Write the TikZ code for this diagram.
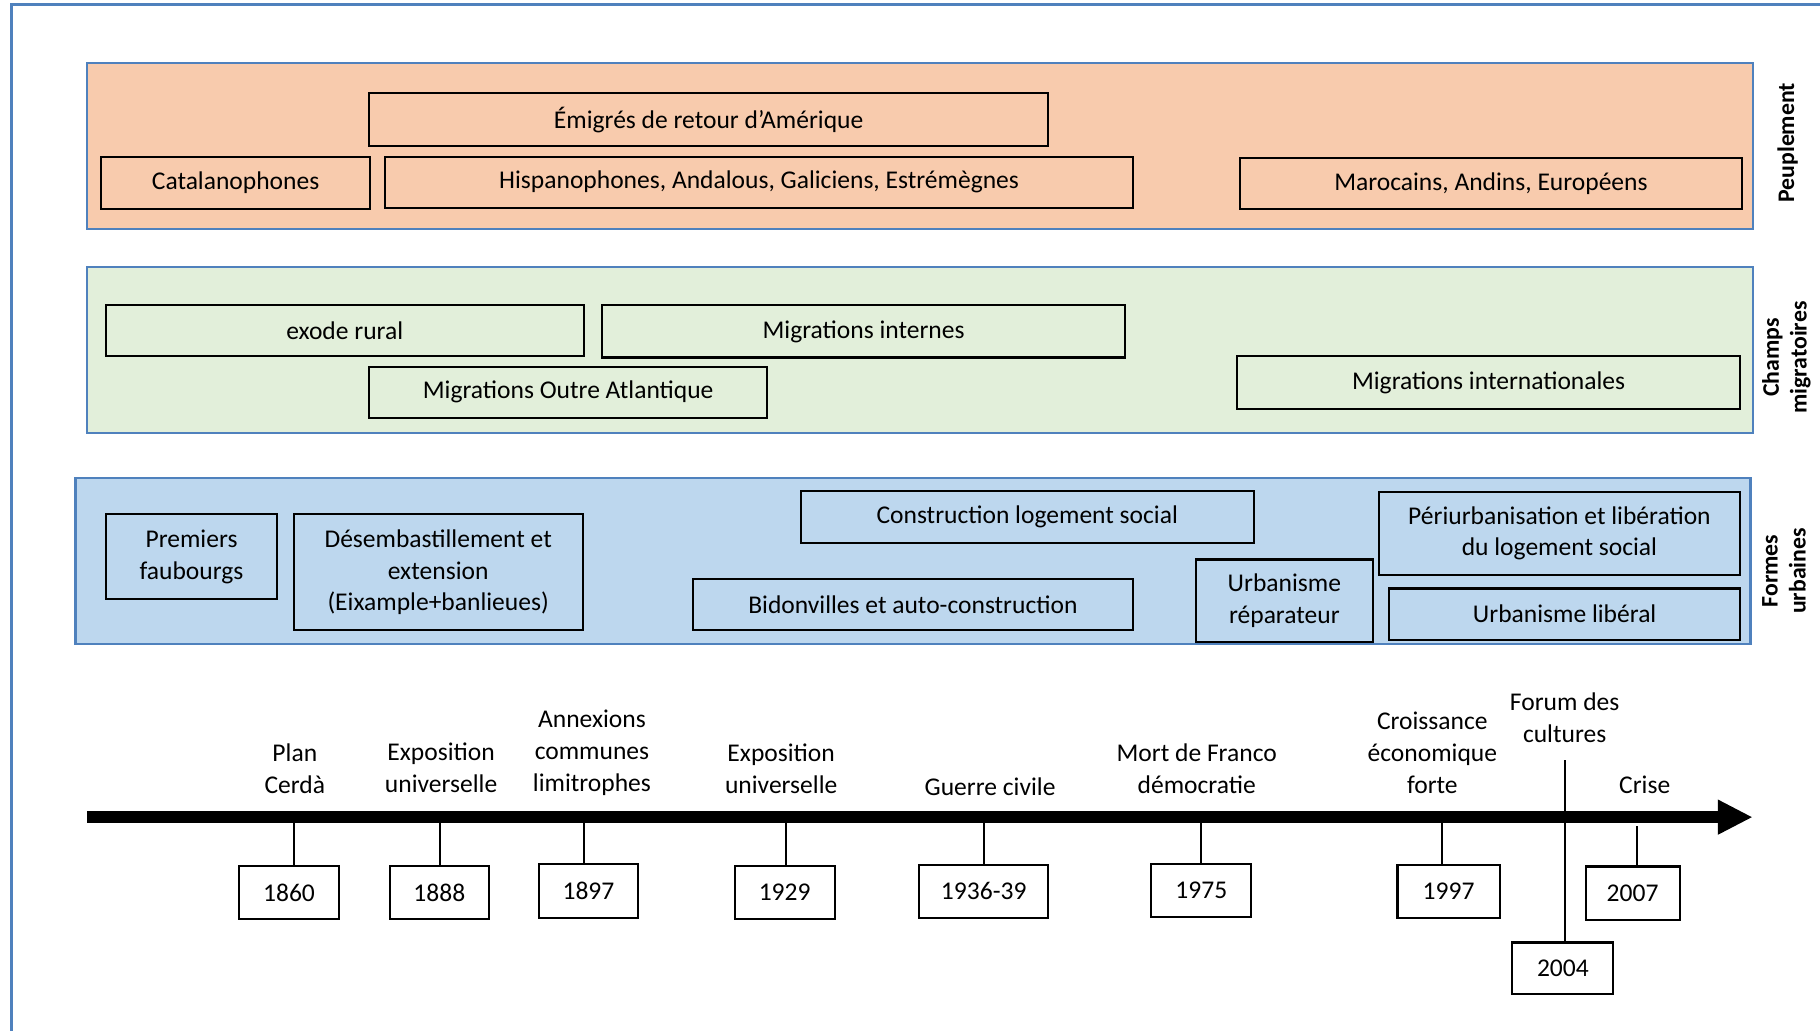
\documentclass[tikz,border=0pt]{standalone}
\usepackage{fontspec}
\setmainfont{Carlito}
\usetikzlibrary{arrows.meta}
\definecolor{frameblue}{RGB}{79,129,189}
\definecolor{peach}{RGB}{248,203,173}
\definecolor{palegreen}{RGB}{226,239,218}
\definecolor{paleblue}{RGB}{189,215,238}
\begin{document}
\begin{tikzpicture}[x=1pt,y=-1pt,
  band/.style={draw=frameblue,line width=2pt,inner sep=0pt,minimum width=1435pt,minimum height=143pt},
  box/.style={draw=black,line width=1.8pt,inner sep=0pt,align=center,minimum height=44pt,
    font=\fontsize{22}{27.5}\selectfont},
  yearbox/.style={box,minimum width=86pt,minimum height=46pt},
  evt/.style={align=center,inner sep=0pt,font=\fontsize{22}{27.5}\selectfont},
  sidelabel/.style={rotate=90,align=center,inner sep=0pt,font=\fontsize{20.5}{24}\selectfont\bfseries},
  tick/.style={draw=black,line width=1.8pt}]
\useasboundingbox (0,0) rectangle (1568,888);
% outer frame
\draw[frameblue,line width=2pt] (10,900) -- (10,4) -- (1580,4);
% bands
\node[band,fill=peach] (bpeu) at (792.5,126) {};
\node[band,fill=palegreen] (bcha) at (792.5,301.5) {};
\node[band,fill=paleblue,minimum width=1443pt] (bfor) at (786.5,483.5) {};
% side labels
\node[sidelabel] (lpeu) at (1540,123) {Peuplement};
\node[sidelabel] (lcha) at (1539,308) {Champs\\migratoires};
\node[sidelabel] (lfor) at (1537,492) {Formes\\urbaines};
% Peuplement
\node[box,minimum width=585pt,minimum height=46pt] (emig) at (610.5,103) {Émigrés de retour d’Amérique};
\node[box,minimum width=232pt,minimum height=45pt] (catal) at (203,157.5) {Catalanophones};
\node[box,minimum width=644pt] (hisp) at (654,157) {Hispanophones, Andalous, Galiciens, Estrémègnes};
\node[box,minimum width=433pt] (maroc) at (1284.5,158) {Marocains, Andins, Européens};
% Champs migratoires
\node[box,minimum width=412pt] (exode) at (297,285) {exode rural};
\node[box,minimum width=450pt,minimum height=45pt] (internes) at (744,285.5) {Migrations internes};
\node[box,minimum width=343pt] (outre) at (489.5,338) {Migrations Outre Atlantique};
\node[box,minimum width=433pt,minimum height=45pt] (intl) at (1282.5,329.5) {Migrations internationales};
% Formes urbaines
\node[box,minimum width=148pt,minimum height=73pt] (faub) at (165,479.5) {Premiers\\faubourgs};
\node[box,minimum width=249pt,minimum height=100pt] (desemb) at (377.5,493) {Désembastillement et\\extension\\(Eixample+banlieues)};
\node[box,minimum width=390pt,minimum height=45pt] (constr) at (885,445.5) {Construction logement social};
\node[box,minimum width=379pt] (bidon) at (786.5,521) {Bidonvilles et auto-construction};
\node[box,minimum width=153pt,minimum height=71pt] (urbrep) at (1106.5,517.5) {Urbanisme\\réparateur};
\node[box,minimum width=311pt,minimum height=71pt] (periurb) at (1343.5,459.5) {Périurbanisation et libération\\du logement social};
\node[box,minimum width=302pt] (urblib) at (1348,529) {Urbanisme libéral};
% timeline
\coordinate (tlstart) at (75,704);
\coordinate (tlend) at (1510,704);
\draw[line width=10pt,-{Triangle[length=30pt,width=28pt]}] (tlstart) -- (tlend);
% year boxes
\node[yearbox] (y1860) at (249,769) {1860};
\node[yearbox,minimum width=85pt] (y1888) at (378.5,769) {1888};
\node[yearbox] (y1897) at (507,767.5) {1897};
\node[yearbox] (y1929) at (676,769) {1929};
\node[yearbox,minimum width=111pt] (y1936) at (847.5,768) {1936-39};
\node[yearbox] (y1975) at (1035,767) {1975};
\node[yearbox,minimum width=88pt] (y1997) at (1248,768) {1997};
\node[yearbox,minimum width=87pt,minimum height=44pt] (y2004) at (1346.5,834) {2004};
\node[yearbox,minimum width=81pt] (y2007) at (1406.5,769.5) {2007};
% ticks
\coordinate (t1860) at (253,704);
\coordinate (t1888) at (379,704);
\coordinate (t1897) at (503,704);
\coordinate (t1929) at (677,704);
\coordinate (t1936) at (848,704);
\coordinate (t1975) at (1035,704);
\coordinate (t1997) at (1242,704);
\coordinate (t2004) at (1348,655);
\coordinate (t2007) at (1410,712);
\draw[tick] (t1860) -- (t1860 |- y1860.north);
\draw[tick] (t1888) -- (t1888 |- y1888.north);
\draw[tick] (t1897) -- (t1897 |- y1897.north);
\draw[tick] (t1929) -- (t1929 |- y1929.north);
\draw[tick] (t1936) -- (t1936 |- y1936.north);
\draw[tick] (t1975) -- (t1975 |- y1975.north);
\draw[tick] (t1997) -- (t1997 |- y1997.north);
\draw[tick] (t2004) -- (t2004 |- y2004.north);
\draw[tick] (t2007) -- (t2007 |- y2007.north);
% event labels
\node[evt] (lplan) at (254,662) {Plan\\Cerdà};
\node[evt] (lexpo1) at (380,661.5) {Exposition\\universelle};
\node[evt] (lannex) at (510,648.5) {Annexions\\communes\\limitrophes};
\node[evt] (lexpo2) at (673,662.5) {Exposition\\universelle};
\node[evt] (lguerre) at (853,678) {Guerre civile};
\node[evt] (lfranco) at (1031,662.5) {Mort de Franco\\démocratie};
\node[evt] (lcroiss) at (1234,648.5) {Croissance\\économique\\forte};
\node[evt] (lforum) at (1348,618) {Forum des\\cultures};
\node[evt] (lcrise) at (1417,676) {Crise};
\end{tikzpicture}
\end{document}
